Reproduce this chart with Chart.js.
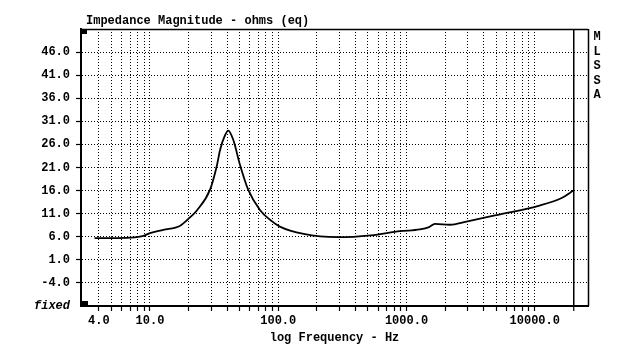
<!DOCTYPE html>
<html><head><meta charset="utf-8">
<script src="https://cdn.jsdelivr.net/npm/chart.js@4"></script>
<style>html,body{margin:0;padding:0;background:#fff}canvas{display:block}</style>
</head><body>
<canvas id="c" width="637" height="363"></canvas>
<script>
// ---- data ----
const frequencies = [3.7, 5, 7, 8.9, 10, 12.7, 17.2, 20.5, 23.2, 29.4, 33.3, 35.2, 38.5, 40.8, 44.6, 50.3, 58.3, 72, 87, 103, 158, 290, 528, 889, 1270, 1500, 1665, 2180, 2930, 5050, 10700, 16200, 20000];
const impedance   = [5.7, 5.7, 5.8, 6.2, 6.8, 7.5, 8.4, 10.2, 11.7, 16.2, 21.5, 24.8, 28.0, 29.0, 27.0, 21.6, 16.2, 11.8, 9.6, 8.2, 6.6, 5.9, 6.3, 7.2, 7.6, 8.1, 8.8, 8.6, 9.3, 10.7, 12.7, 14.4, 16.0];
const yTickValues = [-9, -4, 1, 6, 11, 16, 21, 26, 31, 36, 41, 46];
const yTickLabels = ['fixed', '-4.0', '1.0', '6.0', '11.0', '16.0', '21.0', '26.0', '31.0', '36.0', '41.0', '46.0'];
const xGridValues = [4,5,6,7,8,9,10,20,30,40,50,60,70,80,90,100,200,300,400,500,600,700,800,900,1000,2000,3000,4000,5000,6000,7000,8000,9000,10000,20000];
const xLabelValues = [4, 10, 100, 1000, 10000];
const xTickLabels = ['4.0', '10.0', '100.0', '1000.0', '10000.0'];
const chartTitle = 'Impedance Magnitude - ohms (eq)';
const xAxisTitle = 'log Frequency - Hz';
const sideLabel = 'MLSSA';

const FONT = '"Liberation Mono", "DejaVu Sans Mono", monospace';
Chart.defaults.color = '#000';

const decor = {
  id: 'decor',
  afterDraw(chart) {
    const {ctx, chartArea: a} = chart;
    ctx.save();
    ctx.strokeStyle = '#000';
    ctx.lineWidth = 1.5;
    ctx.beginPath();
    ctx.moveTo(a.left, a.top + 0.5); ctx.lineTo(a.right, a.top + 0.5);
    ctx.moveTo(a.right + 0.5, a.top); ctx.lineTo(a.right + 0.5, a.bottom);
    ctx.stroke();
    ctx.fillStyle = '#000';
    ctx.fillRect(a.left, a.top, 6, 5);
    ctx.fillRect(a.left + 1, a.bottom - 5, 6, 5);
    ctx.font = 'bold 12px ' + FONT;
    ctx.textBaseline = 'alphabetic';
    ctx.textAlign = 'left';
    ctx.fillText(chartTitle, a.left + 5, 24);
    ctx.textAlign = 'center';
    ctx.textBaseline = 'middle';
    for (let i = 0; i < sideLabel.length; i++) {
      ctx.fillText(sideLabel[i], a.right + 9, a.top + 8 + i * 14.5);
    }
    ctx.restore();
  }
};

new Chart(document.getElementById('c'), {
  type: 'line',
  data: {
    datasets: [{
      data: frequencies.map((f, i) => ({x: f, y: impedance[i]})),
      borderColor: '#000',
      borderWidth: 1.8,
      pointRadius: 0,
      fill: false,
      cubicInterpolationMode: 'monotone'
    }]
  },
  options: {
    responsive: false,
    animation: false,
    layout: {padding: {left: 0, right: 49, top: 29, bottom: 0}},
    plugins: {legend: {display: false}, title: {display: false}, tooltip: {enabled: false}},
    scales: {
      x: {
        type: 'logarithmic',
        min: 2.9,
        max: 26000,
        afterFit(s) { s.height = 57; },
        afterBuildTicks(s) { s.ticks = xGridValues.map(v => ({value: v})); },
        ticks: {
          autoSkip: false, maxRotation: 0, minRotation: 0, padding: 3,
          font: {family: FONT, size: 12, weight: 'bold'},
          callback(v) { const k = xLabelValues.indexOf(v); return k >= 0 ? xTickLabels[k] : ''; }
        },
        grid: {
          color: '#000',
          lineWidth: c => (c.tick && c.tick.value === 20000) ? 1.5 : 1,
          tickLength: 5, tickColor: '#000', tickWidth: 1.2
        },
        border: {
          display: true, color: '#000', width: 2,
          dash: c => (c.tick && c.tick.value === 20000) ? [] : [1, 2]
        },
        title: {
          display: true, text: xAxisTitle,
          font: {family: FONT, size: 12, weight: 'bold'},
          padding: {top: 0, bottom: 18}
        }
      },
      y: {
        type: 'linear',
        min: -9,
        max: 51,
        afterFit(s) { s.width = 81; },
        afterBuildTicks(s) { s.ticks = yTickValues.map(v => ({value: v})); },
        ticks: {
          padding: 6,
          font: c => ({family: FONT, size: 12, weight: 'bold', style: (c.tick && c.tick.value === -9) ? 'italic' : 'normal'}),
          callback(v, i) { return yTickLabels[i]; }
        },
        grid: {
          color: c => (c.tick && c.tick.value === -9) ? 'rgba(0,0,0,0)' : '#000',
          lineWidth: 1,
          tickLength: 5,
          tickColor: c => (c.tick && c.tick.value === -9) ? 'rgba(0,0,0,0)' : '#000',
          tickWidth: 1.2
        },
        border: {display: true, color: '#000', width: 2, dash: [1, 2]}
      }
    }
  },
  plugins: [decor]
});
</script>
</body></html>
